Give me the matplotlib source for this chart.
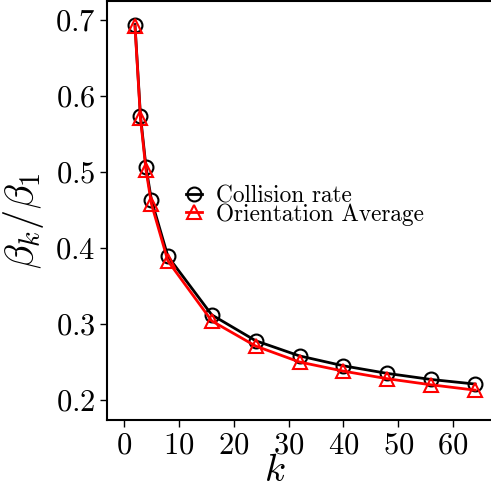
import numpy as np
import matplotlib
matplotlib.use('Agg')
import matplotlib.pyplot as plt

plt.rcParams['font.family'] = 'serif'
plt.rcParams['font.serif'] = ['cmr10']
plt.rcParams['mathtext.fontset'] = 'cm'
plt.rcParams['axes.formatter.use_mathtext'] = True

k = [2, 3, 4, 5, 8, 16, 24, 32, 40, 48, 56, 64]
collision = [0.694, 0.574, 0.507, 0.463, 0.389, 0.312, 0.278, 0.258, 0.245, 0.235, 0.227, 0.221]
orientation = [0.692, 0.571, 0.503, 0.458, 0.383, 0.304, 0.271, 0.250, 0.238, 0.228, 0.220, 0.213]

f = plt.figure(figsize=(4.91, 4.93), dpi=100)
ax = f.add_axes([107 / 491, 1 - 420 / 493, 1 - 107 / 491, 419 / 493])

ax.plot(k, collision, color='black', lw=2, marker='o', ms=10, mfc='none', mew=1.5,
        label='Collision rate')
ax.plot(k, orientation, color='red', lw=2, marker='^', ms=10, mfc='none', mew=1.5,
        label='Orientation Average')

ax.set_xlim(-3.1, 66.9)
ax.set_ylim(0.1737, 0.725)
ax.set_xticks([0, 10, 20, 30, 40, 50, 60])
ax.set_yticks([0.2, 0.3, 0.4, 0.5, 0.6, 0.7])
ax.tick_params(labelsize=22, direction='out', length=5, width=1)
ax.spines['right'].set_visible(False)
for s in ['left', 'bottom', 'top']:
    ax.spines[s].set_linewidth(1.5)

ax.set_xlabel('$k$', fontsize=28)
ax.xaxis.set_label_coords(0.4375, -0.08)
ax.set_ylabel(r'$\beta_k/\beta_1$', fontsize=29)
ax.yaxis.set_label_coords(-0.16, 0.477)

ax.legend(loc='upper left', bbox_to_anchor=(186 / 491, 1 - 185 / 493),
          bbox_transform=f.transFigure, frameon=False, fontsize=16.8,
          handlelength=0.7, handletextpad=0.6, labelspacing=-0.17, borderpad=0,
          borderaxespad=0)

f.savefig('out.png', dpi=100)
